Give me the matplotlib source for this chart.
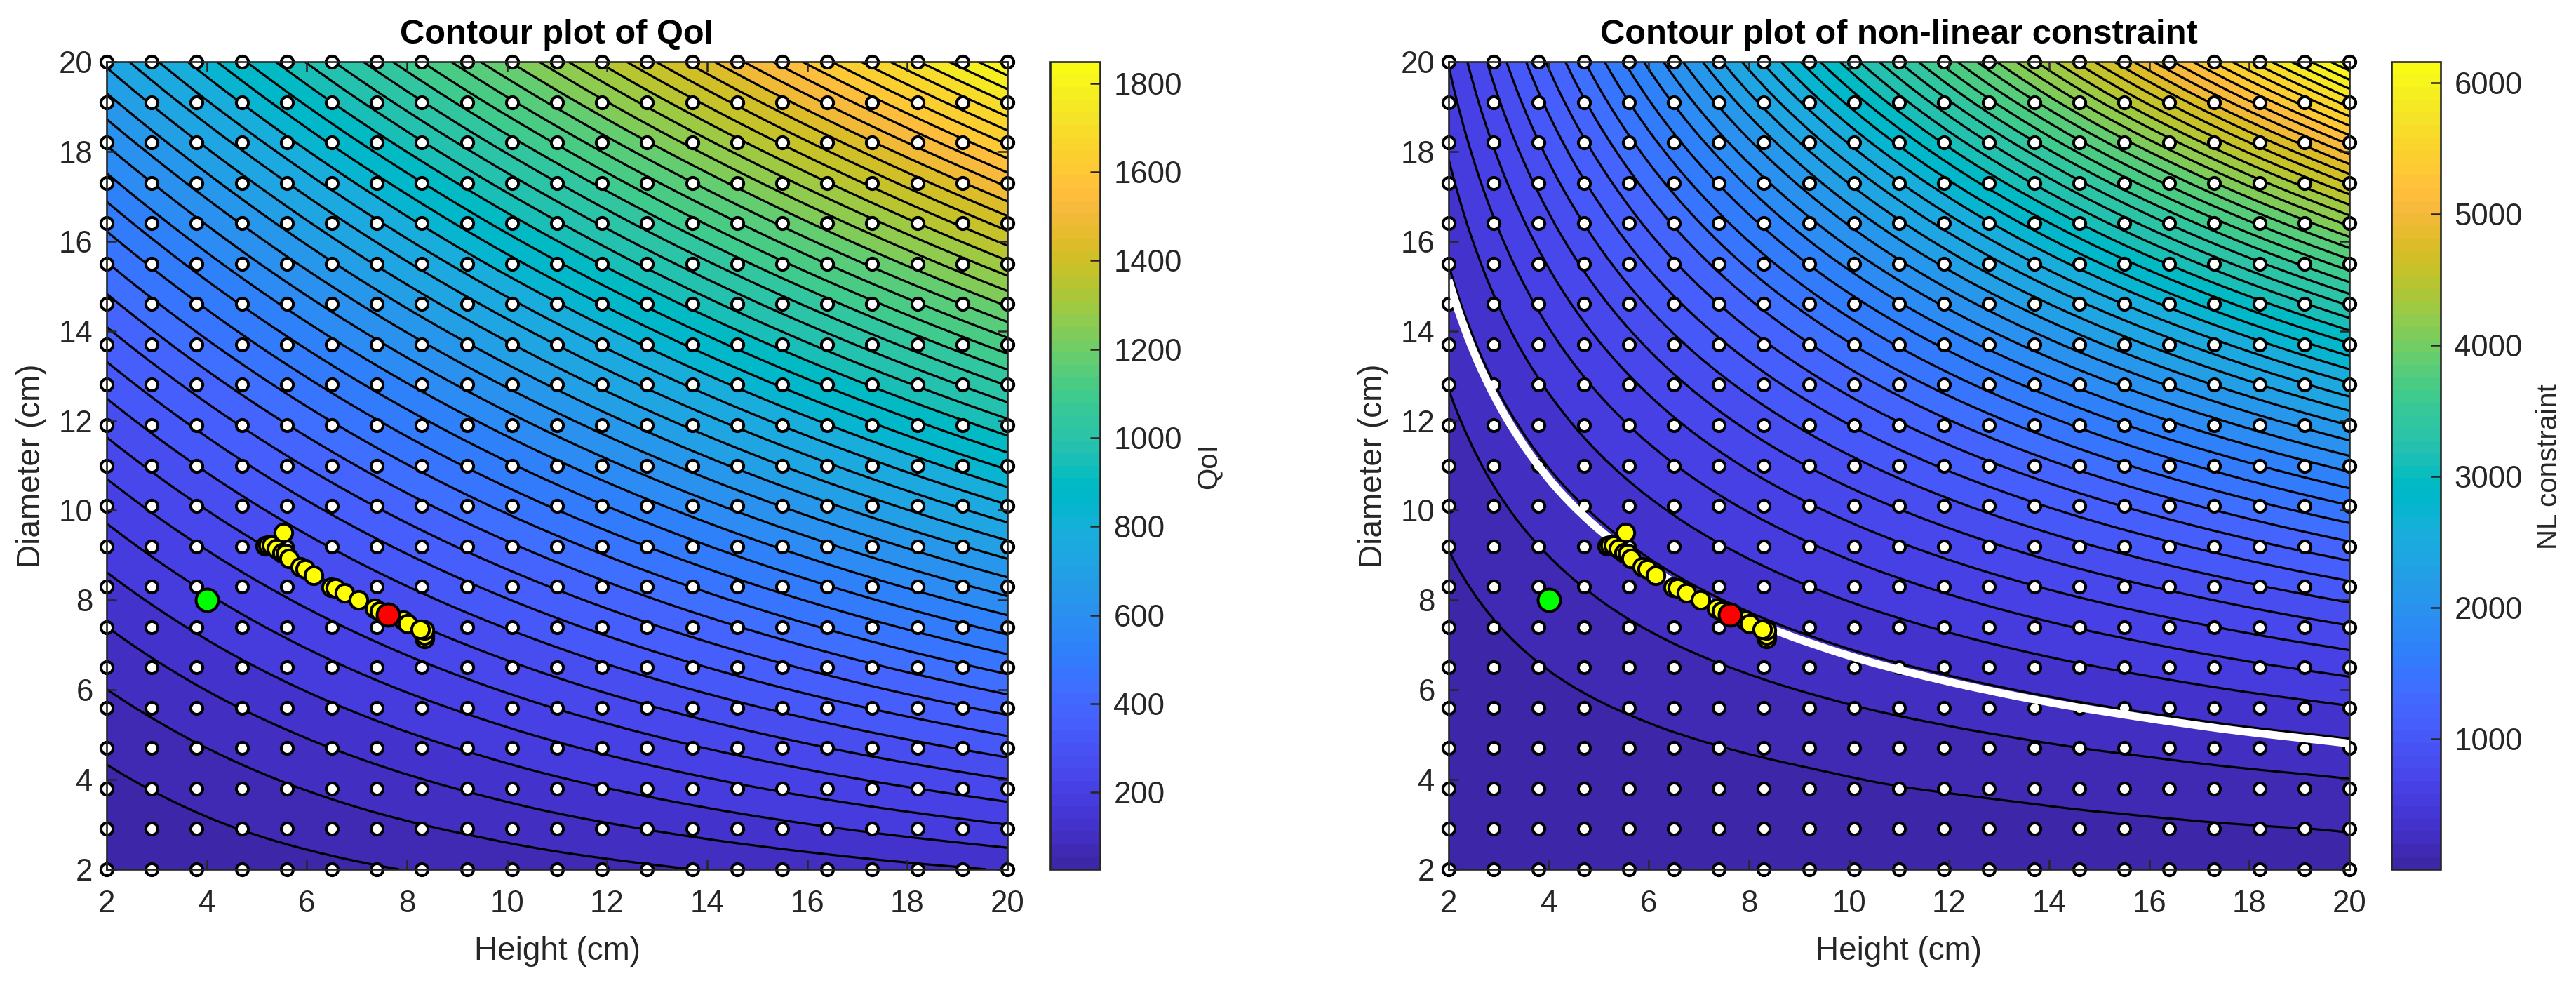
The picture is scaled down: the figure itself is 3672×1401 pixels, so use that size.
import numpy as np
import matplotlib
matplotlib.use("Agg")
import matplotlib.pyplot as plt
from matplotlib.colors import ListedColormap, Normalize
from matplotlib.cm import ScalarMappable
from matplotlib.tri import Triangulation, UniformTriRefiner, CubicTriInterpolator

plt.rcParams['font.family'] = ['Liberation Sans', 'DejaVu Sans']

# Surface readings at the axis tick positions
table_height = [2, 4, 6, 8, 10, 12, 14, 16, 18, 20]
table_diameter = [2, 4, 6, 8, 10, 12, 14, 16, 18, 20]
qoi_rows = [
    [26, 38.5, 51, 63.4, 75.9, 88.4, 100.8, 113.3, 125.8, 138.2],
    [56.3, 81.2, 106.2, 131.1, 156.1, 181, 205.9, 230.9, 255.8, 280.8],
    [98.5, 135.9, 173.3, 210.7, 248.1, 285.5, 322.9, 360.3, 397.7, 435.1],
    [152.6, 202.5, 252.4, 302.3, 352.1, 402, 451.9, 501.7, 551.6, 601.5],
    [218.6, 281, 343.3, 405.7, 468, 530.3, 592.7, 655, 717.4, 779.7],
    [296.5, 371.3, 446.1, 521, 595.8, 670.6, 745.4, 820.2, 895, 969.8],
    [386.3, 473.6, 560.9, 648.2, 735.4, 822.7, 910, 997.3, 1084.6, 1171.8],
    [488, 587.7, 687.5, 787.2, 886.9, 986.7, 1086.4, 1186.1, 1285.9, 1385.6],
    [601.6, 713.8, 826, 938.2, 1050.5, 1162.7, 1274.9, 1387.1, 1499.3, 1611.6],
    [727.1, 851.8, 976.5, 1101.1, 1225.8, 1350.5, 1475.2, 1599.9, 1724.6, 1849.2],
]
nl_rows = [
    [7, 13, 19, 25, 31, 38, 44, 50, 57, 63],
    [25, 50, 75, 100, 126, 151, 176, 201, 226, 251],
    [57, 113, 170, 226, 283, 339, 396, 452, 509, 565],
    [100, 201, 302, 402, 503, 603, 704, 804, 905, 1005],
    [157, 314, 471, 628, 785, 942, 1100, 1257, 1414, 1571],
    [226, 452, 679, 905, 1131, 1357, 1583, 1810, 2036, 2262],
    [308, 616, 924, 1231, 1539, 1847, 2155, 2463, 2771, 3079],
    [402, 804, 1206, 1608, 2011, 2413, 2815, 3217, 3619, 4021],
    [509, 1018, 1527, 2036, 2545, 3054, 3563, 4072, 4581, 5089],
    [628, 1257, 1885, 2513, 3142, 3770, 4398, 5027, 5655, 6283],
]
qoi_range = [26, 1849]   # colour bar end values
nl_range = [7, 6162]
constraint_level = 360
n_bands = 50

# Sampled design points (white dots)
sample_height = [2, 2.9, 3.8, 4.7, 5.6, 6.5, 7.4, 8.3, 9.2, 10.1, 11, 11.9, 12.8, 13.7, 14.6, 15.5, 16.4, 17.3, 18.2, 19.1, 20]
sample_diameter = [2, 2.9, 3.8, 4.7, 5.6, 6.5, 7.4, 8.3, 9.2, 10.1, 11, 11.9, 12.8, 13.7, 14.6, 15.5, 16.4, 17.3, 18.2, 19.1, 20]

# Optimiser iterates (yellow), start (green) and optimum (red)
iter_height = [5.17, 5.22, 5.30, 5.39, 5.50, 5.57, 5.53, 5.65, 5.87, 5.97, 6.14,
               6.48, 6.57, 6.75, 7.03, 7.35, 7.46, 7.93, 8.02, 8.35, 8.35, 8.35, 8.27]
iter_diameter = [9.21, 9.23, 9.23, 9.15, 9.06, 9.03, 9.51, 8.93, 8.74, 8.70, 8.55,
                 8.29, 8.27, 8.16, 8.00, 7.82, 7.76, 7.55, 7.48, 7.15, 7.23, 7.33, 7.35]
start_point = [4.0, 8.0]
best_point = [7.62, 7.68]

qoi_ticks = [200, 400, 600, 800, 1000, 1200, 1400, 1600, 1800]
nl_ticks = [1000, 2000, 3000, 4000, 5000, 6000]
axis_ticks = [2, 4, 6, 8, 10, 12, 14, 16, 18, 20]

parula = [
 [0.2422,0.1504,0.6603],[0.2504,0.1650,0.7076],[0.2578,0.1818,0.7511],[0.2647,0.1978,0.7952],
 [0.2706,0.2147,0.8364],[0.2751,0.2342,0.8710],[0.2783,0.2559,0.8991],[0.2803,0.2782,0.9221],
 [0.2813,0.3006,0.9414],[0.2810,0.3228,0.9579],[0.2795,0.3447,0.9717],[0.2760,0.3667,0.9829],
 [0.2699,0.3892,0.9906],[0.2602,0.4123,0.9952],[0.2440,0.4358,0.9988],[0.2206,0.4603,0.9973],
 [0.1963,0.4847,0.9892],[0.1834,0.5074,0.9798],[0.1786,0.5289,0.9682],[0.1764,0.5499,0.9520],
 [0.1687,0.5703,0.9359],[0.1540,0.5902,0.9218],[0.1460,0.6091,0.9079],[0.1380,0.6276,0.8973],
 [0.1248,0.6459,0.8883],[0.1113,0.6635,0.8763],[0.0952,0.6798,0.8598],[0.0689,0.6948,0.8394],
 [0.0297,0.7082,0.8163],[0.0036,0.7203,0.7917],[0.0067,0.7312,0.7660],[0.0433,0.7411,0.7394],
 [0.0964,0.7500,0.7120],[0.1408,0.7584,0.6842],[0.1717,0.7670,0.6554],[0.1938,0.7758,0.6251],
 [0.2161,0.7843,0.5923],[0.2470,0.7918,0.5567],[0.2906,0.7973,0.5188],[0.3406,0.8008,0.4789],
 [0.3909,0.8029,0.4354],[0.4456,0.8024,0.3909],[0.5044,0.7993,0.3480],[0.5616,0.7942,0.3045],
 [0.6174,0.7876,0.2612],[0.6720,0.7793,0.2227],[0.7242,0.7698,0.1910],[0.7738,0.7598,0.1646],
 [0.8203,0.7498,0.1535],[0.8634,0.7406,0.1596],[0.9035,0.7330,0.1774],[0.9393,0.7288,0.2100],
 [0.9728,0.7298,0.2394],[0.9956,0.7434,0.2371],[0.9970,0.7659,0.2199],[0.9952,0.7893,0.2028],
 [0.9892,0.8136,0.1885],[0.9786,0.8386,0.1766],[0.9676,0.8639,0.1643],[0.9610,0.8890,0.1537],
 [0.9597,0.9135,0.1423],[0.9628,0.9373,0.1265],[0.9691,0.9606,0.1064],[0.9769,0.9839,0.0805],
]
cmap = ListedColormap(parula)

W, H = 3673, 1401
DPI = 100
INK = '#262626'
fig = plt.figure(figsize=(W / DPI, H / DPI), dpi=DPI)


def box(x0, x1, top=88, bottom=1239):
    return [x0 / W, 1 - bottom / H, (x1 - x0) / W, (bottom - top) / H]


def refine(rows):
    xx, yy = np.meshgrid(table_height, table_diameter)
    z = np.asarray(rows, float).ravel()
    tri = Triangulation(xx.ravel().astype(float), yy.ravel().astype(float))
    interp = CubicTriInterpolator(tri, z, kind='min_E')
    return UniformTriRefiner(tri).refine_field(z, triinterpolator=interp, subdiv=3)


def panel(ax_x, cb_x, rows, c_range, title, cb_label, cb_ticks, cb_label_x, constraint=None):
    ax = fig.add_axes(box(*ax_x))
    cax = fig.add_axes(box(*cb_x))
    vmin, vmax = c_range
    norm = Normalize(vmin, vmax)
    levels = np.linspace(vmin, vmax, n_bands + 1)
    fine_tri, fine_z = refine(rows)
    top = max(float(np.max(fine_z)), vmax) + 1
    low = min(float(np.min(fine_z)), vmin) - 1
    fill_levels = [low] + list(levels[1:]) + [top]
    fill_colors = [cmap(norm(l)) for l in levels[:-1]] + [cmap(1.0)]
    ax.tricontourf(fine_tri, fine_z, levels=fill_levels, colors=fill_colors, zorder=1)
    ax.tricontour(fine_tri, fine_z, levels=levels[1:], colors='black', linewidths=2.3,
                  linestyles='solid', zorder=1.2)
    sx, sy = np.meshgrid(sample_height, sample_diameter)
    ax.plot(sx.ravel(), sy.ravel(), ls='none', marker='o', ms=12.4, mew=2.9, mfc='white', mec='black',
            clip_on=False, zorder=2)
    if constraint is not None:
        ax.tricontour(fine_tri, fine_z, levels=[constraint], colors='white', linewidths=8,
                      linestyles='solid', zorder=2.2)
    for hx, dy in zip(iter_height, iter_diameter):
        ax.plot([hx], [dy], ls='none', marker='o', ms=18.2, mew=2.9, mfc='#ffff00', mec='black', zorder=3)
    ax.plot(*start_point, ls='none', marker='o', ms=23, mew=2.9, mfc='#00ff00', mec='black', zorder=3)
    ax.plot(*best_point, ls='none', marker='o', ms=23, mew=2.9, mfc='#ff0000', mec='black', zorder=3)

    ax.set_xlim(2, 20)
    ax.set_ylim(2, 20)
    ax.set_xticks(axis_ticks)
    ax.set_yticks(axis_ticks)
    ax.set_axisbelow(False)
    ax.tick_params(axis='x', direction='in', length=10, width=1.8, color=INK, labelcolor=INK, labelsize=31.5, pad=21, top=True)
    ax.tick_params(axis='y', direction='in', length=10, width=1.8, color=INK, labelcolor=INK, labelsize=31.5, pad=14, right=True)
    for s in ax.spines.values():
        s.set_linewidth(1.9)
        s.set_edgecolor(INK)
        s.set_zorder(2.5)
    ax.set_xlabel('Height (cm)', fontsize=33, color=INK, labelpad=18)
    ax.set_ylabel('Diameter (cm)', fontsize=33, color=INK, labelpad=12)
    ax.set_title(title, fontsize=35.2, fontweight='bold', color='black', pad=19)

    sm = ScalarMappable(norm=norm, cmap=cmap)
    cb = fig.colorbar(sm, cax=cax)
    cb.set_ticks(cb_ticks)
    cb.ax.tick_params(direction='in', length=10, width=1.8, color=INK, labelcolor=INK, labelsize=31.5, pad=14)
    cb.outline.set_linewidth(1.9)
    cb.outline.set_edgecolor(INK)
    fig.text(cb_label_x / W, 1 - 665 / H, cb_label, rotation=90, ha='center', va='center', fontsize=29, color=INK)
    return ax


panel((152, 1436), (1497, 1568), qoi_rows, qoi_range, 'Contour plot of QoI', 'QoI', qoi_ticks, 1722)
panel((2065, 3349), (3409, 3479), nl_rows, nl_range, 'Contour plot of non-linear constraint', 'NL constraint', nl_ticks, 3634,
      constraint=constraint_level)

fig.savefig('out.png', dpi=DPI, facecolor='white')
